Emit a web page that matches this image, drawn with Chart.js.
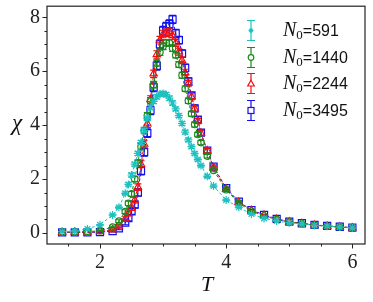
<!DOCTYPE html>
<html>
<head>
<meta charset="utf-8">
<script src="https://cdn.jsdelivr.net/npm/chart.js@4.4.1/dist/chart.umd.min.js"></script>
<style>
  html, body { margin: 0; padding: 0; background: #fff; }
  #wrap { position: relative; width: 373px; height: 302px; }
  #chart { position: absolute; left: 0; top: 0; }
  .axtitle { position: absolute; font-family: "Liberation Serif", serif; font-style: italic; color: #111; line-height: 1; }
  #legend { position: absolute; left: 244px; top: 17px; }
  .row { position: relative; height: 26.5px; }
  .row svg { position: absolute; left: 0; top: 0; }
  .lab { position: absolute; left: 39px; top: 1px; white-space: nowrap; color: #111; line-height: 22px; }
  .lab i { font-family: "Liberation Serif", serif; font-size: 20px; }
  .lab sub { font-family: "Liberation Serif", serif; font-size: 13px; vertical-align: -3px; }
  .lab span { font-family: "Liberation Sans", sans-serif; font-size: 16px; }
</style>
</head>
<body>
<div id="wrap">
  <canvas id="chart" width="373" height="302"></canvas>
  <div class="axtitle" style="left:12px; top:111px; font-size:23px;">χ</div>
  <div class="axtitle" style="left:201px; top:273px; font-size:22px;">T</div>
  <div id="legend"></div>
</div>
<script>
const temps = [1.4, 1.6, 1.8, 2.0, 2.2, 2.3, 2.4, 2.45, 2.5, 2.55, 2.6, 2.65, 2.7, 2.75, 2.8, 2.85, 2.9, 2.95,
  3.0, 3.05, 3.1, 3.15, 3.2, 3.25, 3.3, 3.35, 3.4, 3.45, 3.5, 3.55, 3.6, 3.7, 3.8, 4.0, 4.2, 4.4, 4.6, 4.8,
  5.0, 5.2, 5.4, 5.6, 5.8, 6.0];

const chi591 = [0.05, 0.07, 0.15, 0.3, 0.67, 0.95, 1.47, 1.8, 2.15, 2.55, 2.95, 3.35, 3.8, 4.25, 4.65, 4.88, 5.05, 5.15,
  5.17, 5.13, 5.0, 4.82, 4.6, 4.35, 4.06, 3.74, 3.45, 3.2, 2.95, 2.72, 2.5, 2.1, 1.74, 1.22, 0.95, 0.7, 0.54, 0.44,
  0.38, 0.33, 0.28, 0.25, 0.22, 0.19];
const chi1440 = [0.03, 0.04, 0.05, 0.08, 0.22, 0.44, 0.79, 1.1, 1.45, 2.0, 2.6, 3.2, 3.8, 4.35, 4.9, 5.5, 6.3, 6.7,
  6.92, 7.05, 7.05, 6.85, 6.6, 6.25, 5.85, 5.35, 4.9, 4.42, 4.02, 3.65, 3.35, 2.85, 2.32, 1.6, 1.1, 0.81, 0.63, 0.5,
  0.4, 0.34, 0.29, 0.25, 0.22, 0.19];
const chi2244 = [0.02, 0.03, 0.03, 0.05, 0.12, 0.26, 0.52, 0.72, 0.93, 1.22, 1.7, 2.55, 3.3, 4.05, 4.95, 5.9, 6.62, 7.15,
  7.38, 7.42, 7.46, 7.32, 7.05, 6.72, 6.4, 5.95, 5.55, 5.05, 4.6, 4.15, 3.7, 3.05, 2.42, 1.63, 1.14, 0.84, 0.66, 0.51,
  0.41, 0.35, 0.29, 0.25, 0.22, 0.19];
const chi3495 = [0.02, 0.02, 0.02, 0.03, 0.07, 0.17, 0.38, 0.55, 0.8, 1.05, 1.5, 2.3, 3.0, 3.7, 4.55, 5.4, 6.2, 7.0,
  7.5, 7.65, 7.75, 7.92, 7.4, 7.15, 6.65, 6.12, 5.62, 5.1, 4.62, 4.2, 3.72, 3.05, 2.46, 1.66, 1.16, 0.85, 0.67, 0.52,
  0.42, 0.36, 0.3, 0.26, 0.23, 0.2];

// error bars (half widths)
const err591 = [0, 0, 0, 0.01, 0.03, 0.04, 0.05, 0.06, 0.07, 0.07, 0.08, 0.08, 0.08, 0.08, 0.08, 0.08, 0.08, 0.08,
  0.08, 0.08, 0.08, 0.08, 0.07, 0.07, 0.07, 0.07, 0.06, 0.06, 0.06, 0.05, 0.05, 0.05, 0.04, 0.03, 0.02, 0.01, 0.01, 0,
  0, 0, 0, 0, 0, 0];
const err1440 = [0, 0, 0, 0.01, 0.03, 0.05, 0.07, 0.08, 0.09, 0.1, 0.11, 0.12, 0.12, 0.12, 0.12, 0.12, 0.12, 0.12,
  0.12, 0.12, 0.12, 0.12, 0.11, 0.11, 0.11, 0.1, 0.1, 0.09, 0.09, 0.08, 0.08, 0.07, 0.05, 0.04, 0.02, 0.01, 0.01, 0,
  0, 0, 0, 0, 0, 0];
const err2244 = [0, 0, 0, 0.01, 0.03, 0.05, 0.08, 0.09, 0.1, 0.11, 0.12, 0.13, 0.14, 0.14, 0.14, 0.14, 0.14, 0.14,
  0.14, 0.14, 0.14, 0.14, 0.13, 0.13, 0.12, 0.12, 0.11, 0.11, 0.1, 0.1, 0.09, 0.08, 0.06, 0.04, 0.03, 0.02, 0.01, 0,
  0, 0, 0, 0, 0, 0];
const err3495 = [0, 0, 0, 0.01, 0.03, 0.05, 0.08, 0.1, 0.11, 0.12, 0.13, 0.15, 0.15, 0.16, 0.16, 0.16, 0.16, 0.16,
  0.16, 0.16, 0.16, 0.15, 0.15, 0.14, 0.14, 0.14, 0.13, 0.12, 0.12, 0.11, 0.1, 0.08, 0.06, 0.04, 0.03, 0.02, 0.01, 0,
  0, 0, 0, 0, 0, 0];

const seriesLabels = ["591", "1440", "2244", "3495"];
const seriesColors = ["#1fc0c0", "#1a8a1a", "#f01010", "#1010f0"];
const seriesMarkers = ["star", "circle", "triangle", "rect"];
const seriesRadius = [4, 3.2, 4.2, 5];

const xMajor = [2, 4, 6];
const xMinor = [1.5, 2.5, 3, 3.5, 4.5, 5, 5.5];
const yMajor = [0, 2, 4, 6, 8];
const yMinor = [0.5, 1, 1.5, 2.5, 3, 3.5, 4.5, 5, 5.5, 6.5, 7, 7.5];

const chiSeries = [chi591, chi1440, chi2244, chi3495];
const errSeries = [err591, err1440, err2244, err3495];

const serif = "'Liberation Serif', 'Times New Roman', serif";
const axisColor = "#222";

const errorBars = {
  id: "errorBars",
  afterDatasetDraw(chart, args) {
    const ds = chart.data.datasets[args.index];
    const xs = chart.scales.x, ys = chart.scales.y;
    const ctx = chart.ctx;
    ctx.save();
    ctx.strokeStyle = ds.borderColor;
    ctx.lineWidth = 1.1;
    ds.data.forEach((p, i) => {
      const e = ds.errors[i];
      if (!e) return;
      const x = xs.getPixelForValue(p.x);
      const y1 = ys.getPixelForValue(p.y - e);
      const y2 = ys.getPixelForValue(p.y + e);
      ctx.beginPath();
      ctx.moveTo(x, y1); ctx.lineTo(x, y2);
      ctx.moveTo(x - 3.5, y1); ctx.lineTo(x + 3.5, y1);
      ctx.moveTo(x - 3.5, y2); ctx.lineTo(x + 3.5, y2);
      ctx.stroke();
    });
    ctx.restore();
  }
};

const frame = {
  id: "frame",
  afterDraw(chart) {
    const { ctx, chartArea: a, scales } = chart;
    ctx.save();
    ctx.strokeStyle = axisColor;
    ctx.lineWidth = 1.2;
    ctx.strokeRect(a.left, a.top, a.right - a.left, a.bottom - a.top);
    ctx.lineWidth = 1;
    ctx.beginPath();
    xMajor.concat(xMinor).forEach(v => {
      const x = Math.round(scales.x.getPixelForValue(v)) + 0.5;
      const len = xMajor.includes(v) ? 4.5 : 2.5;
      ctx.moveTo(x, a.bottom); ctx.lineTo(x, a.bottom + len);
    });
    yMajor.concat(yMinor).forEach(v => {
      const y = Math.round(scales.y.getPixelForValue(v)) + 0.5;
      const len = yMajor.includes(v) ? 4.5 : 2.5;
      ctx.moveTo(a.left, y); ctx.lineTo(a.left - len, y);
    });
    ctx.stroke();
    ctx.restore();
  }
};

const datasets = chiSeries.map((chi, k) => ({
  label: "N0=" + seriesLabels[k],
  data: temps.map((t, i) => ({ x: t, y: chi[i] })),
  errors: errSeries[k],
  showLine: true,
  borderColor: seriesColors[k],
  backgroundColor: "rgba(0,0,0,0)",
  borderWidth: 1,
  borderDash: [3, 2],
  pointStyle: seriesMarkers[k],
  pointRadius: seriesRadius[k],
  pointBorderWidth: 1.2,
  pointBorderColor: seriesColors[k],
  pointBackgroundColor: "rgba(0,0,0,0)",
  tension: 0
}));

new Chart(document.getElementById("chart"), {
  type: "scatter",
  data: { datasets },
  plugins: [errorBars, frame],
  options: {
    responsive: false,
    animation: false,
    layout: { padding: { top: 6, right: 8, left: 0, bottom: 0 } },
    plugins: { legend: { display: false }, tooltip: { enabled: false } },
    scales: {
      x: {
        type: "linear",
        min: 1.16,
        max: 6.2,
        grid: { display: false, drawTicks: false },
        border: { display: false },
        afterBuildTicks: s => { s.ticks = xMajor.map(v => ({ value: v })); },
        afterFit: s => { s.height = 58; s.paddingLeft = 0; s.paddingRight = 0; },
        ticks: { padding: 7, color: "#222", font: { family: serif, size: 20 }, maxRotation: 0 }
      },
      y: {
        type: "linear",
        min: -0.41,
        max: 8.41,
        grid: { display: false, drawTicks: false },
        border: { display: false },
        afterBuildTicks: s => { s.ticks = yMajor.map(v => ({ value: v })); },
        afterFit: s => { s.width = 47; s.paddingTop = 0; s.paddingBottom = 0; },
        ticks: { padding: 7, color: "#222", font: { family: serif, size: 20 } }
      }
    }
  }
});

// legend
function glyph(k) {
  const c = seriesColors[k];
  let m = "";
  if (seriesMarkers[k] === "star") {
    m = `<path d="M4.5 13.5h5M7 11v5M5.3 11.8l3.4 3.4M8.7 11.8l-3.4 3.4" stroke="${c}" stroke-width="1.2"/>`;
  } else if (seriesMarkers[k] === "circle") {
    m = `<circle cx="7" cy="13.5" r="2.8" fill="#fff" stroke="${c}" stroke-width="1.2"/>`;
  } else if (seriesMarkers[k] === "triangle") {
    m = `<path d="M7 10.2L10.3 16H3.7Z" fill="#fff" stroke="${c}" stroke-width="1.2"/>`;
  } else {
    m = `<rect x="4" y="10.5" width="6" height="6" fill="#fff" stroke="${c}" stroke-width="1.2"/>`;
  }
  return `<svg width="14" height="27"><path d="M7 3.5v20M3 3.5h8M3 23.5h8" stroke="${c}" stroke-width="1.2"/>${m}</svg>`;
}
document.getElementById("legend").innerHTML = seriesLabels.map((lab, k) =>
  `<div class="row">${glyph(k)}<div class="lab"><i>N</i><sub>0</sub><span>=${lab}</span></div></div>`
).join("");
</script>
</body>
</html>
